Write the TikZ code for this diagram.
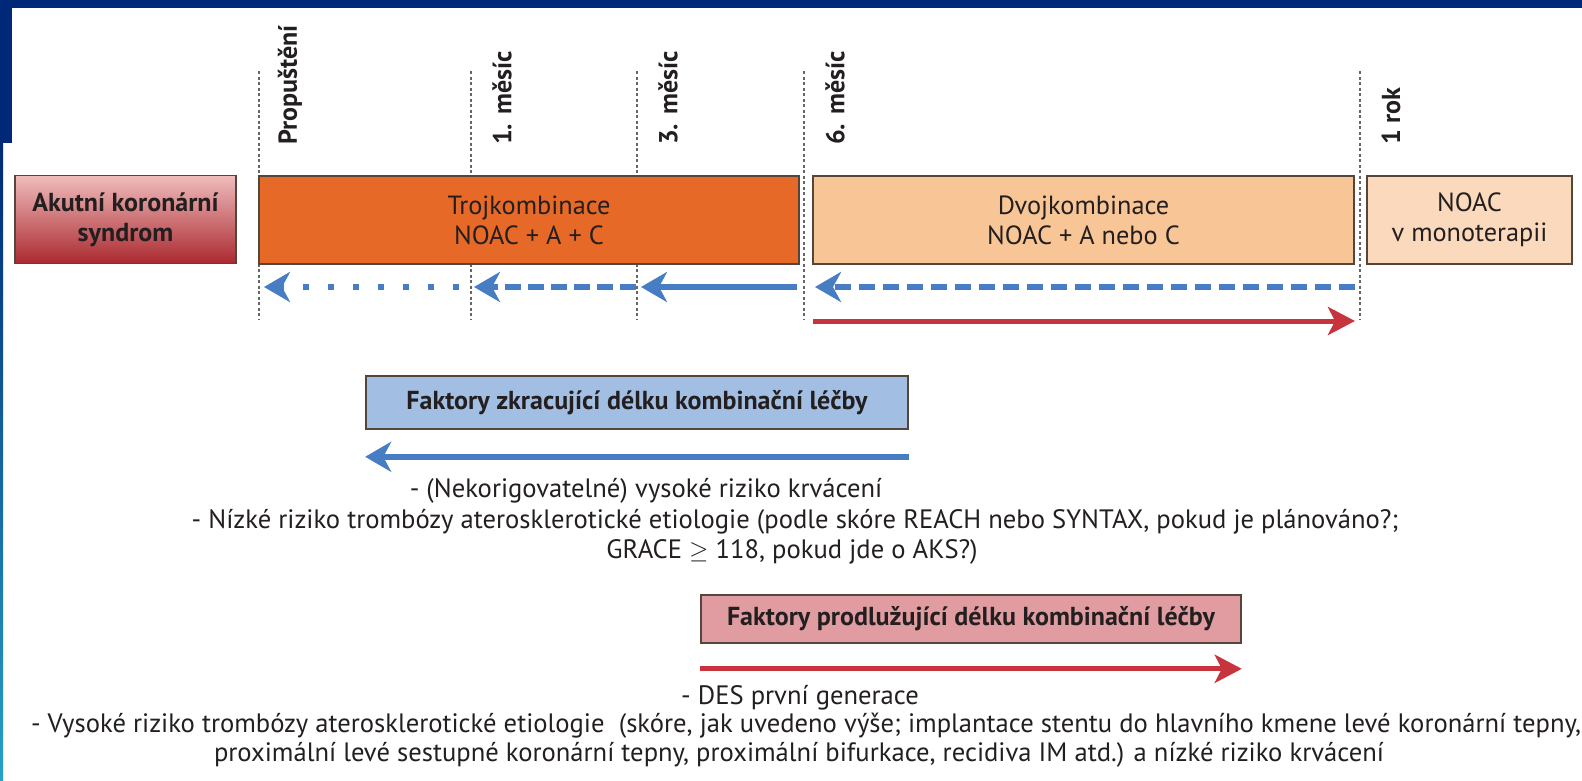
\documentclass[tikz,border=0pt]{standalone}
\usepackage{fontspec}
\setmainfont{PT Sans}
\usetikzlibrary{arrows.meta}
\definecolor{FrameNavy}{RGB}{0,40,120}
\definecolor{FrameTeal}{RGB}{40,160,200}
\definecolor{TriOrange}{RGB}{230,105,40}
\definecolor{DuoOrange}{RGB}{248,198,150}
\definecolor{MonoOrange}{RGB}{250,217,188}
\definecolor{AcsTop}{RGB}{240,188,188}
\definecolor{AcsBottom}{RGB}{170,42,48}
\definecolor{ShortBlue}{RGB}{70,125,195}
\definecolor{ShortBoxBlue}{RGB}{162,190,226}
\definecolor{LongRed}{RGB}{200,52,62}
\definecolor{LongBoxRed}{RGB}{224,156,160}
\definecolor{BoxEdge}{RGB}{85,70,60}
\definecolor{TextDark}{RGB}{35,31,32}

\begin{document}
\begin{tikzpicture}[x=1pt, y=-1pt,
    phase/.style={draw=BoxEdge, line width=1.6pt, inner sep=0pt, align=center,
      text=TextDark, font=\fontsize{26.3}{30}\selectfont},
    factor/.style={phase, font=\fontsize{26}{30}\selectfont\bfseries},
    timemark/.style={draw=black!60, line width=1.8pt, dash pattern=on 3pt off 2.5pt},
    marklabel/.style={rotate=90, anchor=west, inner sep=0pt, text=TextDark,
      font=\fontsize{26}{30}\selectfont\bfseries},
    shortarrow/.style={draw=ShortBlue, line width=5.5pt,
      -{Stealth[length=26pt, width=30pt, inset=8pt]}},
    longarrow/.style={draw=LongRed, line width=5pt,
      -{Stealth[length=27pt, width=28pt, inset=7pt]}},
    note/.style={inner sep=0pt, text=TextDark, font=\fontsize{26.6}{30}\selectfont}
  ]
    \useasboundingbox (0,0) rectangle (1582,780);
    \fill[white] (0,0) rectangle (1582,780);

    % Frame
    \fill[FrameNavy] (0,0) rectangle (1582,8);
    \fill[FrameNavy] (0,0) rectangle (12,143);
    \shade[top color=FrameNavy, bottom color=FrameTeal] (0,143) rectangle (3,780);

    % Time marks
    \foreach \x/\name/\txt in {259/prop/Propuštění, 471/mon1/1. měsíc,
        637/mon3/3. měsíc, 804/mon6/6. měsíc, 1360/year1/1 rok} {
      \draw[timemark] (\x,71) -- (\x,320);
      \node[marklabel] (\name) at ({\x+31},145) {\txt};
    }

    % Phases
    \node[phase, font=\fontsize{26}{30}\selectfont\bfseries, top color=AcsTop,
      bottom color=AcsBottom, minimum width=221pt, minimum height=88pt]
      (acs) at (125.5,219.5) {Akutní koronární\\syndrom};
    \node[phase, fill=TriOrange, minimum width=540pt, minimum height=88pt]
      (tri) at (529,220) {Trojkombinace\\NOAC + A + C};
    \node[phase, fill=DuoOrange, minimum width=541pt, minimum height=88pt]
      (duo) at (1083.5,220) {Dvojkombinace\\NOAC + A nebo C};
    \node[phase, fill=MonoOrange, minimum width=205pt, minimum height=88pt]
      (mono) at (1469.5,220) {NOAC\\v monoterapii};

    % Arrows along the time line
    \coordinate (dotR) at (459,287);
    \coordinate (dotL) at (264,287);
    \coordinate (dashR) at (636,287);
    \coordinate (dashL) at (474,287);
    \coordinate (solR) at (797,287);
    \coordinate (solL) at (641,287);
    \coordinate (duoR) at (1355,287);
    \coordinate (duoL) at (815,287);
    \coordinate (extL) at (813,321);
    \coordinate (extR) at (1355,321);
    \draw[shortarrow, dash pattern=on 6pt off 19pt] (dotR) -- (dotL);
    \draw[shortarrow, dash pattern=on 16pt off 7pt] (dashR) -- (dashL);
    \draw[shortarrow] (solR) -- (solL);
    \draw[shortarrow, dash pattern=on 16pt off 8pt] (duoR) -- (duoL);
    \draw[longarrow] (extL) -- (extR);

    % Shortening factors
    \node[factor, fill=ShortBoxBlue, minimum width=542pt, minimum height=53pt]
      (short) at (637,402.5) {Faktory zkracující délku kombinační léčby};
    \draw[shortarrow] ([yshift=-27pt]short.south east) -- ([yshift=-27pt]short.south west);
    \node[note] (short1) at (646,491) {- (Nekorigovatelné) vysoké riziko krvácení};
    \node[note] (short2) at (795,522) {- Nízké riziko trombózy aterosklerotické etiologie (podle skóre REACH nebo SYNTAX, pokud je plánováno?;};
    \node[note] (short3) at (792,552) {GRACE $\geq$ 118, pokud jde o AKS?)};

    % Prolonging factors
    \node[factor, fill=LongBoxRed, minimum width=540pt, minimum height=48pt]
      (long) at (971,619) {Faktory prodlužující délku kombinační léčby};
    \draw[longarrow] ([yshift=-25pt]long.south west) -- ([yshift=-25pt]long.south east);
    \node[note] (long1) at (800,698) {- DES první generace};
    \node[note] (long2) at (806,726) {- Vysoké riziko trombózy aterosklerotické etiologie\ \ (skóre, jak uvedeno výše; implantace stentu do hlavního kmene levé koronární tepny,};
    \node[note] (long3) at (799,755) {proximální levé sestupné koronární tepny, proximální bifurkace, recidiva IM atd.) a nízké riziko krvácení};
  \end{tikzpicture}
\end{document}
